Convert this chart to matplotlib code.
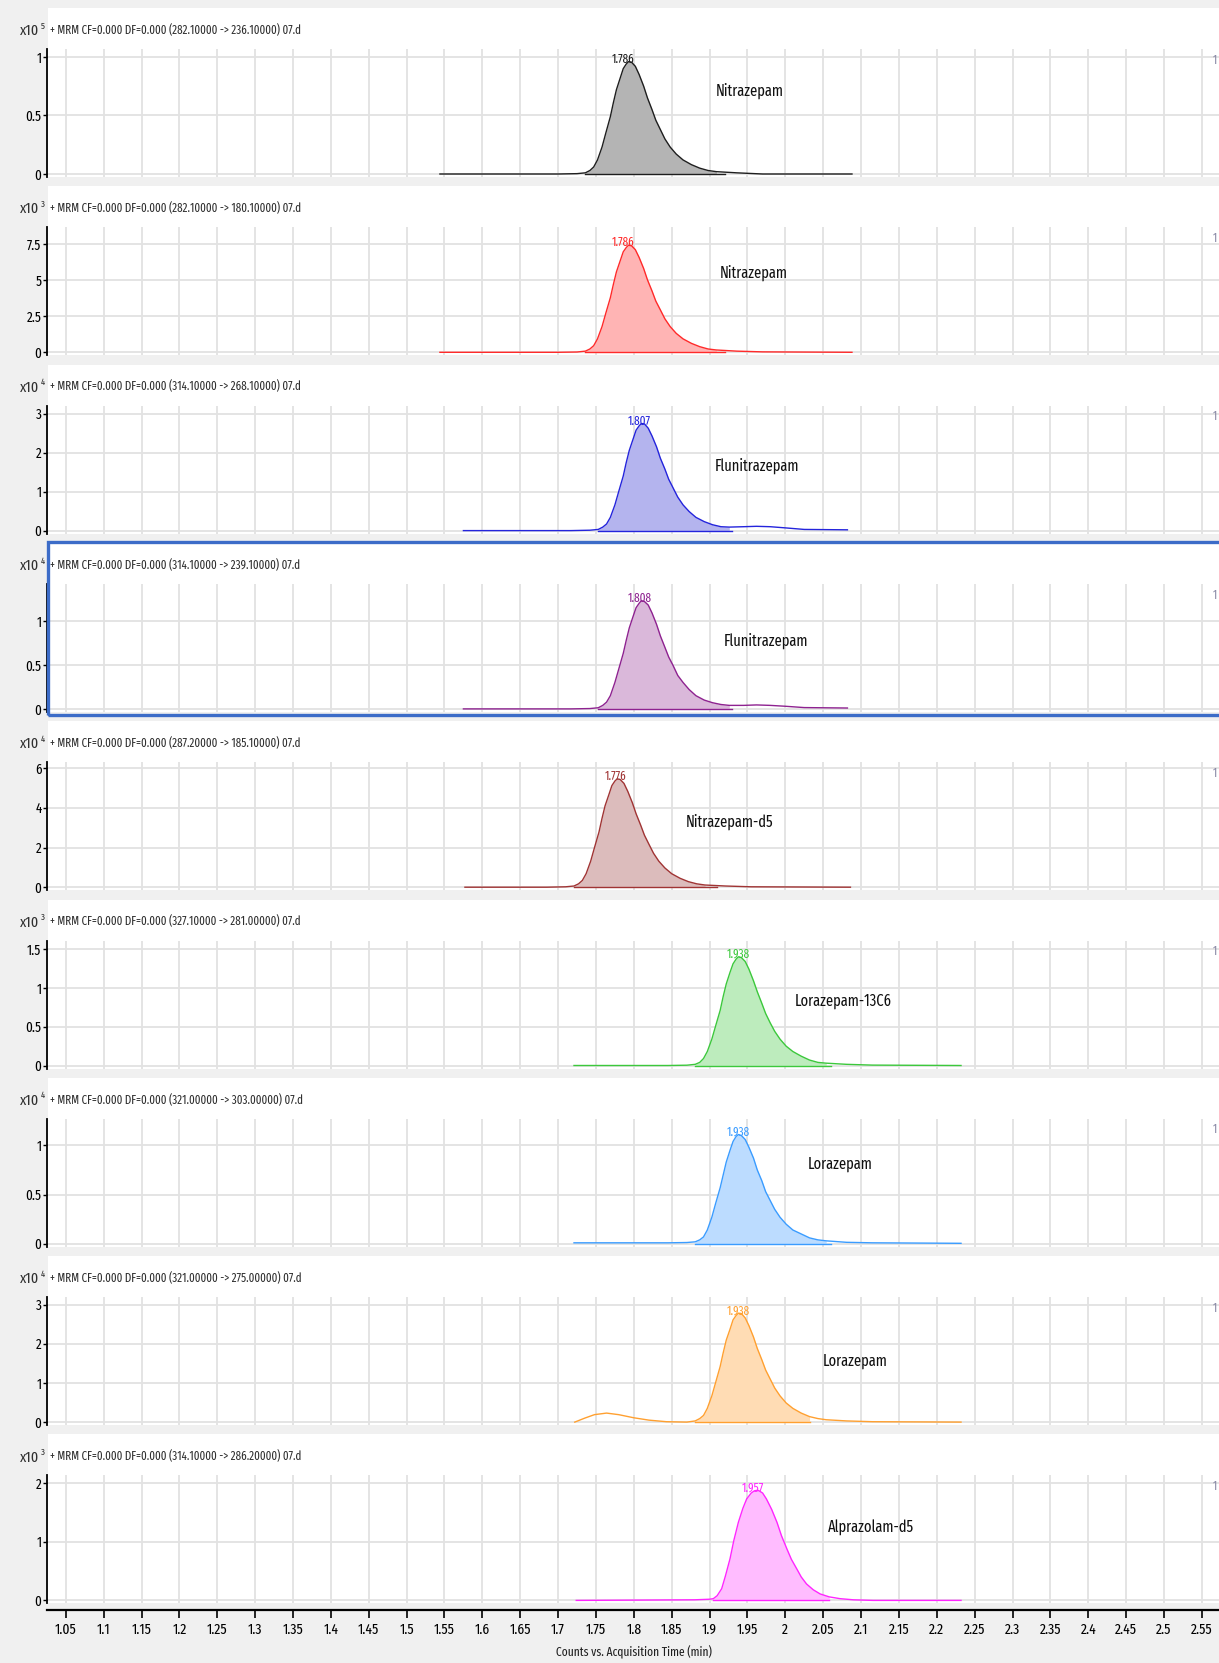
import os
import matplotlib
matplotlib.use("Agg")
import matplotlib.pyplot as plt
from matplotlib import font_manager
from matplotlib.font_manager import FontProperties
from matplotlib.textpath import TextPath
from matplotlib.patches import Rectangle
import numpy as np

# chromatogram stack, 9 MRM transitions
W, H = 1219, 1663

headers = ["(282.10000 -> 236.10000)", "(282.10000 -> 180.10000)", "(314.10000 -> 268.10000)",
           "(314.10000 -> 239.10000)", "(287.20000 -> 185.10000)", "(327.10000 -> 281.00000)",
           "(321.00000 -> 303.00000)", "(321.00000 -> 275.00000)", "(314.10000 -> 286.20000)"]
exps = ["5", "3", "4", "4", "4", "3", "4", "4", "3"]
compounds = ["Nitrazepam", "Nitrazepam", "Flunitrazepam", "Flunitrazepam", "Nitrazepam-d5",
             "Lorazepam-13C6", "Lorazepam", "Lorazepam", "Alprazolam-d5"]
rt_labels = ["1.786", "1.786", "1.807", "1.808", "1.776", "1.938", "1.938", "1.938", "1.957"]
yticks = [[0, 0.5, 1], [0, 2.5, 5, 7.5], [0, 1, 2, 3], [0, 0.5, 1], [0, 2, 4, 6],
          [0, 0.5, 1, 1.5], [0, 0.5, 1], [0, 1, 2, 3], [0, 1, 2]]
ytop = [1.068, 8.66, 3.21, 1.42, 6.30, 1.61, 1.27, 3.19, 2.13]
line_colors = ["#1e1e1e", "#ff2a2a", "#2424dc", "#8e2290", "#a03434",
               "#3cc83c", "#3a9cff", "#ffa030", "#ff26ff"]
fill_colors = ["#b4b4b4", "#ffb4b4", "#b4b4ee", "#dab8da", "#dcbcbc",
               "#bdecbd", "#bcdcff", "#ffdcb4", "#ffbcff"]

x1 = [1.544, 1.700, 1.725, 1.736, 1.742, 1.747, 1.752, 1.758, 1.763, 1.769, 1.773, 1.777, 1.782, 1.786, 1.790, 1.793, 1.797, 1.802,
      1.807, 1.813, 1.818, 1.824, 1.829, 1.835, 1.841, 1.848, 1.856, 1.865, 1.876, 1.887, 1.898, 1.909, 1.936, 1.970, 2.088]
y1 = [0, 0, 0.003, 0.01, 0.03, 0.06, 0.12, 0.23, 0.35, 0.49, 0.61, 0.72, 0.82, 0.90, 0.94, 0.96, 0.955, 0.92,
      0.85, 0.75, 0.65, 0.55, 0.46, 0.38, 0.30, 0.23, 0.17, 0.12, 0.08, 0.05, 0.03, 0.02, 0.01, 0.0, 0]
x2 = [1.544, 1.700, 1.725, 1.736, 1.742, 1.747, 1.752, 1.758, 1.763, 1.769, 1.773, 1.777, 1.782, 1.786, 1.790, 1.793, 1.797, 1.802,
      1.807, 1.813, 1.818, 1.824, 1.829, 1.835, 1.841, 1.848, 1.856, 1.865, 1.876, 1.887, 1.898, 1.909, 1.936, 1.970, 2.088]
y2 = [0, 0, 0.02, 0.08, 0.23, 0.46, 0.93, 1.78, 2.71, 3.78, 4.71, 5.57, 6.34, 6.96, 7.26, 7.42, 7.38, 7.11,
      6.57, 5.80, 5.02, 4.25, 3.55, 2.94, 2.32, 1.78, 1.31, 0.93, 0.62, 0.39, 0.23, 0.16, 0.08, 0.03, 0]
x3 = [1.575, 1.717, 1.742, 1.753, 1.759, 1.764, 1.769, 1.775, 1.780, 1.786, 1.790, 1.794, 1.799, 1.803, 1.807, 1.810, 1.814, 1.819, 1.824,
      1.830, 1.835, 1.841, 1.846, 1.852, 1.858, 1.865, 1.873, 1.882, 1.893, 1.904, 1.915, 1.926, 1.945, 1.962, 1.980, 2.000, 2.025, 2.082]
y3 = [0, 0, 0.01, 0.03, 0.09, 0.17, 0.34, 0.66, 1.00, 1.40, 1.75, 2.06, 2.35, 2.58, 2.69, 2.75, 2.74, 2.63, 2.43,
      2.15, 1.86, 1.58, 1.32, 1.09, 0.86, 0.66, 0.49, 0.34, 0.23, 0.15, 0.10, 0.09, 0.10, 0.11, 0.10, 0.07, 0.03, 0.02]
x4 = [1.575, 1.717, 1.742, 1.753, 1.759, 1.764, 1.769, 1.775, 1.780, 1.786, 1.790, 1.794, 1.799, 1.803, 1.807, 1.810, 1.814, 1.819, 1.824,
      1.830, 1.835, 1.841, 1.846, 1.852, 1.858, 1.865, 1.873, 1.882, 1.893, 1.904, 1.915, 1.926, 1.945, 1.962, 1.980, 2.000, 2.025, 2.082]
y4 = [0, 0, 0.004, 0.013, 0.04, 0.077, 0.15, 0.30, 0.45, 0.63, 0.78, 0.92, 1.05, 1.15, 1.20, 1.23, 1.22, 1.18, 1.09,
      0.96, 0.83, 0.70, 0.59, 0.49, 0.38, 0.30, 0.22, 0.15, 0.10, 0.07, 0.05, 0.04, 0.04, 0.045, 0.04, 0.03, 0.015, 0.01]
x5 = [1.577, 1.685, 1.710, 1.721, 1.727, 1.732, 1.737, 1.743, 1.748, 1.754, 1.758, 1.762, 1.767, 1.771, 1.775, 1.778, 1.782, 1.787,
      1.792, 1.798, 1.803, 1.809, 1.814, 1.820, 1.826, 1.833, 1.841, 1.850, 1.861, 1.872, 1.883, 1.894, 1.921, 1.955, 2.086]
y5 = [0, 0, 0.02, 0.06, 0.17, 0.34, 0.68, 1.31, 1.99, 2.78, 3.47, 4.10, 4.66, 5.12, 5.35, 5.46, 5.43, 5.23,
      4.83, 4.26, 3.70, 3.13, 2.62, 2.16, 1.71, 1.31, 0.97, 0.68, 0.45, 0.28, 0.17, 0.11, 0.06, 0.02, 0]
x6 = [1.721, 1.845, 1.870, 1.881, 1.887, 1.892, 1.897, 1.903, 1.908, 1.914, 1.918, 1.922, 1.927, 1.931, 1.935, 1.938, 1.942, 1.947,
      1.952, 1.958, 1.963, 1.969, 1.974, 1.980, 1.986, 1.993, 2.001, 2.010, 2.021, 2.032, 2.043, 2.054, 2.081, 2.115, 2.232]
y6 = [0, 0, 0.004, 0.015, 0.04, 0.09, 0.18, 0.34, 0.51, 0.71, 0.89, 1.05, 1.20, 1.31, 1.37, 1.40, 1.39, 1.34,
      1.24, 1.09, 0.95, 0.80, 0.67, 0.55, 0.44, 0.34, 0.25, 0.18, 0.12, 0.07, 0.04, 0.03, 0.015, 0.005, 0]
x7 = [1.721, 1.845, 1.870, 1.881, 1.887, 1.892, 1.897, 1.903, 1.908, 1.914, 1.918, 1.922, 1.927, 1.931, 1.935, 1.938, 1.942, 1.947,
      1.952, 1.958, 1.963, 1.969, 1.974, 1.980, 1.986, 1.993, 2.001, 2.010, 2.021, 2.032, 2.043, 2.054, 2.081, 2.115, 2.232]
y7 = [0.01, 0.01, 0.013, 0.02, 0.04, 0.07, 0.14, 0.27, 0.41, 0.57, 0.70, 0.83, 0.95, 1.04, 1.09, 1.11, 1.10, 1.06,
      0.98, 0.87, 0.75, 0.64, 0.53, 0.44, 0.35, 0.27, 0.20, 0.14, 0.10, 0.06, 0.04, 0.03, 0.015, 0.01, 0.005]
x8 = [1.722, 1.735, 1.748, 1.764, 1.780, 1.800, 1.820, 1.843, 1.870,
      1.881, 1.887, 1.892, 1.897, 1.903, 1.908, 1.914, 1.918, 1.922, 1.927, 1.931, 1.935, 1.938, 1.942, 1.947, 1.952,
      1.958, 1.963, 1.969, 1.974, 1.980, 1.986, 1.993, 2.001, 2.010, 2.021, 2.032, 2.043, 2.054, 2.081, 2.115, 2.232]
y8 = [0, 0.10, 0.19, 0.23, 0.19, 0.11, 0.05, 0.01, 0.0,
      0.03, 0.09, 0.17, 0.35, 0.67, 1.01, 1.42, 1.77, 2.09, 2.37, 2.61, 2.72, 2.78, 2.77, 2.66, 2.46,
      2.17, 1.88, 1.59, 1.33, 1.10, 0.87, 0.67, 0.49, 0.35, 0.23, 0.14, 0.09, 0.06, 0.03, 0.01, 0]
x9 = [1.724, 1.880, 1.900, 1.905, 1.910, 1.916, 1.921, 1.927, 1.932, 1.938, 1.944, 1.949, 1.955, 1.959, 1.962, 1.965, 1.970,
      1.975, 1.982, 1.989, 1.995, 2.002, 2.008, 2.015, 2.021, 2.028, 2.037, 2.046, 2.058, 2.072, 2.090, 2.116, 2.232]
y9 = [0, 0.01, 0.02, 0.03, 0.08, 0.20, 0.42, 0.71, 1.02, 1.33, 1.57, 1.73, 1.83, 1.865, 1.875, 1.87, 1.83,
      1.73, 1.55, 1.33, 1.10, 0.88, 0.70, 0.54, 0.40, 0.28, 0.18, 0.11, 0.06, 0.03, 0.01, 0.0, 0]

traces_x = [x1, x2, x3, x4, x5, x6, x7, x8, x9]
traces_y = [y1, y2, y3, y4, y5, y6, y7, y8, y9]
fill_lo = [1.736, 1.736, 1.753, 1.753, 1.721, 1.881, 1.881, 1.881, 1.905]
fill_hi = [1.920, 1.920, 1.930, 1.930, 1.910, 2.060, 2.060, 2.032, 2.058]
# compound label anchors (min, counts)
name_x = [1.953, 1.958, 1.962, 1.974, 1.927, 2.077, 2.073, 2.092, 2.113]
name_y = [0.707, 5.52, 1.67, 0.77, 3.27, 0.83, 0.81, 1.57, 1.24]

xtick_vals = [1.05, 1.1, 1.15, 1.2, 1.25, 1.3, 1.35, 1.4, 1.45, 1.5, 1.55, 1.6, 1.65, 1.7, 1.75, 1.8,
              1.85, 1.9, 1.95, 2.0, 2.05, 2.1, 2.15, 2.2, 2.25, 2.3, 2.35, 2.4, 2.45, 2.5, 2.55]
xtick_labels = ["1.05", "1.1", "1.15", "1.2", "1.25", "1.3", "1.35", "1.4", "1.45", "1.5", "1.55", "1.6",
                "1.65", "1.7", "1.75", "1.8", "1.85", "1.9", "1.95", "2", "2.05", "2.1", "2.15", "2.2",
                "2.25", "2.3", "2.35", "2.4", "2.45", "2.5", "2.55"]
xlim = (1.0252, 2.5726)


# the original uses a very narrow UI font; take the narrowest regular face installed
EXCL = ("Bold", "Italic", "Light", "Thin", "Medium", "Black", "Oblique", "Heavy")


def pick_font():
    files = sorted({f.fname for f in font_manager.fontManager.ttflist})
    for key in ["ExtraCondensed", "Narrow", "Condensed"]:
        for p in files:
            b = os.path.basename(p)
            if key not in b or any(e in b for e in EXCL):
                continue
            if key == "Condensed" and ("Semi" in b or "Extra" in b):
                continue
            return FontProperties(fname=p)
    return FontProperties(family="DejaVu Sans")


base_font = pick_font()


def fit(sample, w_px, cap_px, floor=0.62):
    # size (pt) so the sample is about w_px wide, kept near the cap height of the original
    w10 = TextPath((0, 0), sample, size=10, prop=base_font).get_extents().width * 100 / 72
    size_w = 10 * w_px / w10
    p = base_font.copy()
    p.set_size(min(cap_px, max(size_w, floor * cap_px)))
    return p


f_head = fit("+ MRM CF=0.000 DF=0.000 (282.10000 -> 236.10000) 07.d", 227, 12, 0.72)
f_x10 = fit("x10", 19, 11)
f_exp = fit("5", 3.5, 7)
f_ytick = fit("0.5", 14, 12, 0.85)
f_name = fit("Nitrazepam", 66, 17)
f_rt = fit("1.786", 22, 12)
f_xtick = fit("1.05", 15, 13, 0.82)
f_xlab = fit("Counts vs. Acquisition Time (min)", 135, 12, 0.75)
f_one = fit("1", 3, 9)

fig = plt.figure(figsize=(W / 100, H / 100), dpi=100, facecolor="#f0f0f0")


def fx(px):
    return px / W


def fy(py):
    return 1 - py / H


pitch = 178.3
for i in range(9):
    off = i * pitch
    # white panel background
    fig.add_artist(Rectangle((fx(48), fy(177 + off)), fx(W - 48), 169 / H,
                             transform=fig.transFigure, facecolor="white", edgecolor="none", zorder=-5))
    top, bot = 49 + off, 177 + off
    ax = fig.add_axes([fx(47), fy(bot), fx(W - 47), (bot - top) / H])
    ax.set_facecolor("none")
    ppu = 125 / ytop[i]
    ax.set_ylim(-3 / ppu, ytop[i])
    ax.set_xlim(*xlim)
    ax.set_xticks(xtick_vals)
    ax.set_yticks(yticks[i])
    ax.set_yticklabels([f"{v:g}" for v in yticks[i]], fontproperties=f_ytick)
    ax.tick_params(axis="x", length=0, labelbottom=False)
    ax.tick_params(axis="y", length=3, width=1, pad=1, colors="black")
    ax.grid(True, color="#e2e2e2", lw=1.3, zorder=0)
    ax.set_axisbelow(True)
    for s in ["top", "right", "bottom"]:
        ax.spines[s].set_visible(False)
    ax.spines["left"].set_linewidth(1.3)

    xs = np.array(traces_x[i])
    ys = np.array(traces_y[i])
    mask = (xs >= fill_lo[i]) & (xs <= fill_hi[i])
    ax.fill_between(xs, 0, ys, where=mask, color=fill_colors[i], lw=0, zorder=2)
    ax.plot([fill_lo[i], fill_hi[i]], [0, 0], color=line_colors[i], lw=1.0, zorder=3)
    ax.plot(xs, ys, color=line_colors[i], lw=1.0, zorder=3)

    k = int(np.argmax(ys))
    ax.text(float(rt_labels[i]), ys[k] - 0.03 * ytop[i], rt_labels[i], ha="center", va="bottom",
            color=line_colors[i], fontproperties=f_rt, zorder=4)
    ax.text(name_x[i], name_y[i], compounds[i], ha="center", va="center", fontproperties=f_name,
            color="#111111")

    # header
    fig.text(fx(50), fy(30 + off), "+ MRM CF=0.000 DF=0.000 " + headers[i] + " 07.d",
             ha="left", va="center", fontproperties=f_head, color="#303030")
    fig.text(fx(39.5), fy(31 + off), "x10", ha="right", va="center", fontproperties=f_x10, color="#303030")
    fig.text(fx(40.5), fy(26 + off), exps[i], ha="left", va="center", fontproperties=f_exp, color="#303030")
    fig.text(fx(1213), fy(60 + off), "1", ha="left", va="center", fontproperties=f_one, color="#8a8aa6")

# selected panel frame
fig.add_artist(Rectangle((fx(47.5), fy(714.5)), fx(W), (714.5 - 541.5) / H, transform=fig.transFigure,
                         facecolor="none", edgecolor="#3c6cc8", lw=2.4, zorder=10))

# shared time axis
axb = fig.add_axes([fx(47), fy(1610), fx(W - 47), 0.0005])
axb.set_facecolor("none")
axb.set_xlim(*xlim)
axb.set_yticks([])
for s in ["top", "right", "left"]:
    axb.spines[s].set_visible(False)
axb.spines["bottom"].set_linewidth(1.6)
axb.set_xticks(xtick_vals)
axb.set_xticklabels(xtick_labels, fontproperties=f_xtick)
axb.tick_params(axis="x", length=6, width=1.2, pad=3)
fig.text(fx(634), fy(1652), "Counts vs. Acquisition Time (min)", ha="center", va="center",
         fontproperties=f_xlab, color="#202020")

plt.savefig("out.png", dpi=100, facecolor=fig.get_facecolor())
